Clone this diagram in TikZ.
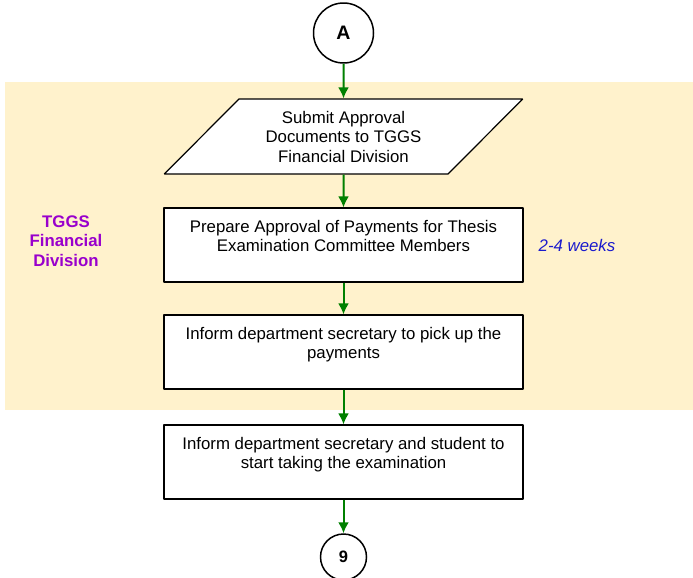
\documentclass[tikz,border=0pt]{standalone}
\usepackage{fontspec}
\setmainfont{Liberation Sans}
\usetikzlibrary{arrows.meta,shapes,backgrounds}
\definecolor{bandyellow}{HTML}{FFF2CC}
\definecolor{flowgreen}{HTML}{008000}
\definecolor{deptpurple}{HTML}{9900CC}
\definecolor{timeblue}{HTML}{1A1ACC}
\newcommand{\boxtxt}[1]{\parbox[c][66bp][t]{350bp}{\centering\rule{0pt}{20bp}#1}}

\begin{document}
\begin{tikzpicture}[>={Latex[length=11bp,width=11bp]},line join=bevel,x=1bp,y=1bp]
 \tikzstyle{every node}=[font=\fontsize{16.8bp}{19.5bp}\selectfont]
 \tikzstyle{connector}=[draw=black,line width=1.5bp,circle,font=\fontsize{19.5bp}{20bp}\selectfont\bfseries]
 \tikzstyle{procbox}=[draw=black,line width=1.2bp,fill=white,rectangle,inner sep=4bp,minimum width=359bp,minimum height=74bp]
 \tikzstyle{flow}=[->,draw=flowgreen,fill=flowgreen,line width=2bp]
 \useasboundingbox (0bp,0bp) rectangle (693bp,-578bp);
 \fill [bandyellow] (5bp,-82bp) rectangle (693bp,-410bp);

 \node (A) at (343.5bp,-33bp) [connector,minimum size=60bp] {A};
 \node (submit) at (343.5bp,-136.5bp) [trapezium,trapezium left angle=45,trapezium right angle=135,
 	trapezium stretches=true,draw=black,line width=1.2bp,fill=white,minimum width=359bp,minimum height=75bp,
 	align=center] {Submit Approval\\Documents to TGGS\\Financial Division};
 \node (prepare) at (343.5bp,-245bp) [procbox] {\boxtxt{Prepare Approval of Payments for Thesis\\Examination Committee Members}};
 \node (inform) at (343.5bp,-352bp) [procbox] {\boxtxt{Inform department secretary to pick up the\\payments}};
 \node (start) at (343.5bp,-462bp) [procbox] {\boxtxt{Inform department secretary and student to\\start taking the examination}};
 \node (nine) at (343.5bp,-557bp) [connector,minimum size=46bp,font=\fontsize{16.5bp}{18bp}\selectfont\bfseries] {9};

 \node (division) at (66bp,-241bp) [align=center,text=deptpurple,font=\fontsize{16.8bp}{19.5bp}\selectfont\bfseries] {TGGS\\Financial\\Division};
 \node (weeks) at (577bp,-245bp) [text=timeblue,font=\fontsize{16.8bp}{19.5bp}\selectfont\itshape] {2-4 weeks};

 \draw [flow] (A) -- (submit);
 \draw [flow] (submit) -- (prepare);
 \draw [flow] (prepare) -- (inform);
 \draw [flow] (inform) -- (start);
 \draw [flow] (start) -- (nine);
\end{tikzpicture}
\end{document}
